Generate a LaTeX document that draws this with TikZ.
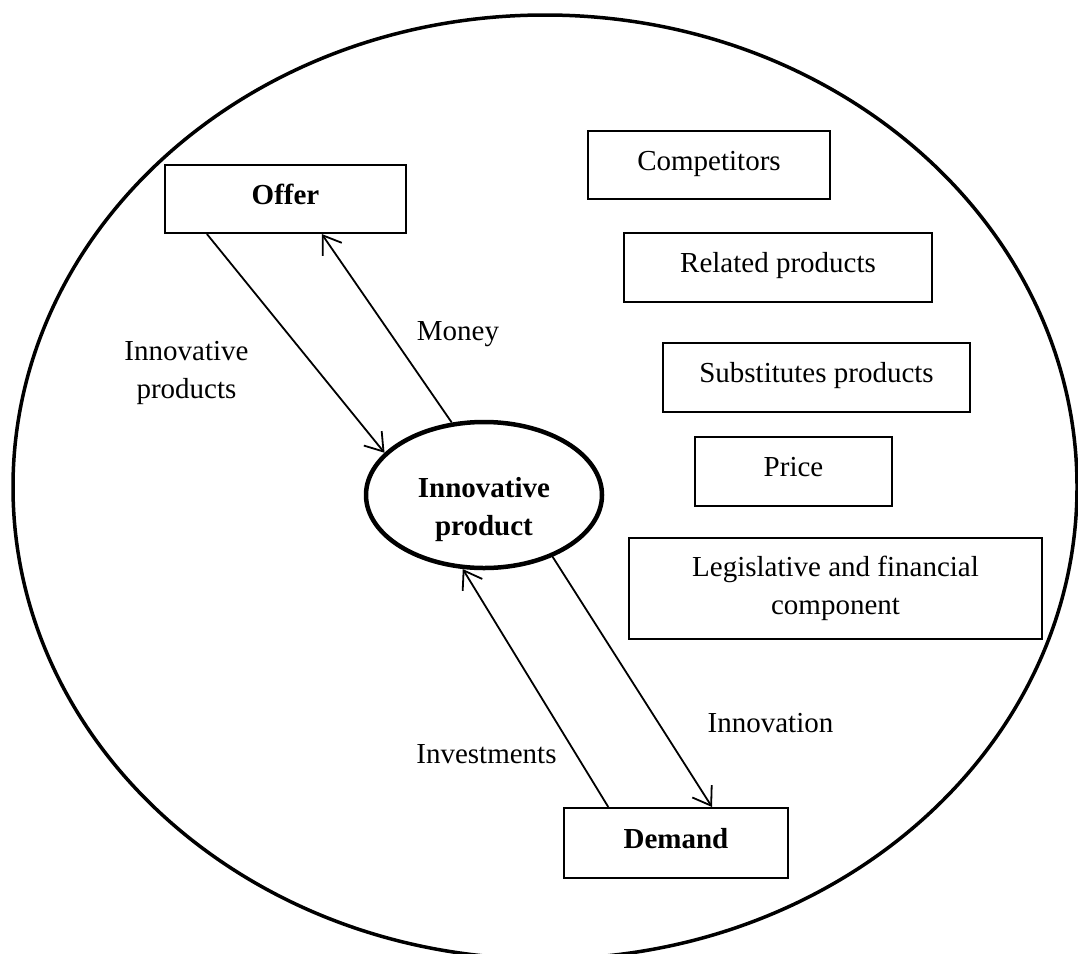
\documentclass[tikz,border=0pt]{standalone}
\usepackage{fontspec}
\setmainfont{Liberation Serif}
\usetikzlibrary{arrows.meta,shapes.geometric}
\newcommand{\diagfont}{\fontsize{29}{38}\selectfont}

\begin{document}
\begin{tikzpicture}[x=1pt,y=-1pt,
    font=\diagfont,
    box/.style={draw, rectangle, line width=2pt, inner sep=0pt, text height=16pt, text depth=6pt},
    strong/.style={font=\diagfont\bfseries},
    flow/.style={-{Straight Barb[length=17pt,width=23pt]}, line width=1.8pt},
    lbl/.style={anchor=base, inner sep=0pt, align=center}]
      \useasboundingbox (0,0) rectangle (1078,953);
      \draw[line width=3.5pt] (545,487) ellipse [x radius=532, y radius=472];

      \node[box, strong, minimum width=241pt, minimum height=68pt] (offer) at (285.5,199) {Offer} ;
      \node[ellipse, draw, line width=4.5pt, strong, align=center, inner sep=0pt,
            minimum width=236pt, minimum height=146pt, text height=88pt] (prod) at (484,495) {Innovative\\product} ;
      \node[box, strong, minimum width=224pt, minimum height=70pt] (demand) at (676,843) {Demand} ;

      \node[box, minimum width=242pt, minimum height=68pt] (comp) at (709,165) {Competitors} ;
      \node[box, minimum width=308pt, minimum height=69pt] (rel) at (778,267.5) {Related products} ;
      \node[box, minimum width=307pt, minimum height=69pt] (subs) at (816.5,377.5) {Substitutes products} ;
      \node[box, minimum width=197pt, minimum height=69pt] (price) at (793.5,471.5) {Price} ;
      \node[draw, rectangle, line width=2pt, inner sep=0pt, align=center,
            minimum width=413pt, minimum height=101pt] (legis) at (835.5,588.5) {Legislative and financial\\component} ;

      \draw[flow] (offer.204.8) -- (prod.157.5) ;
      \draw[flow] (prod.114) -- (offer.-44) ;
      \draw[flow] (demand.152) -- (prod.254.4) ;
      \draw[flow] (prod.-42) -- (demand.45) ;

      \node[lbl] (l_products) at (186.5,398) {Innovative\\products} ;
      \node[lbl] (l_money) at (458,340) {Money} ;
      \node[lbl] (l_invest) at (486.5,763) {Investments} ;
      \node[lbl] (l_innov) at (770.5,732) {Innovation} ;
\end{tikzpicture}
\end{document}
